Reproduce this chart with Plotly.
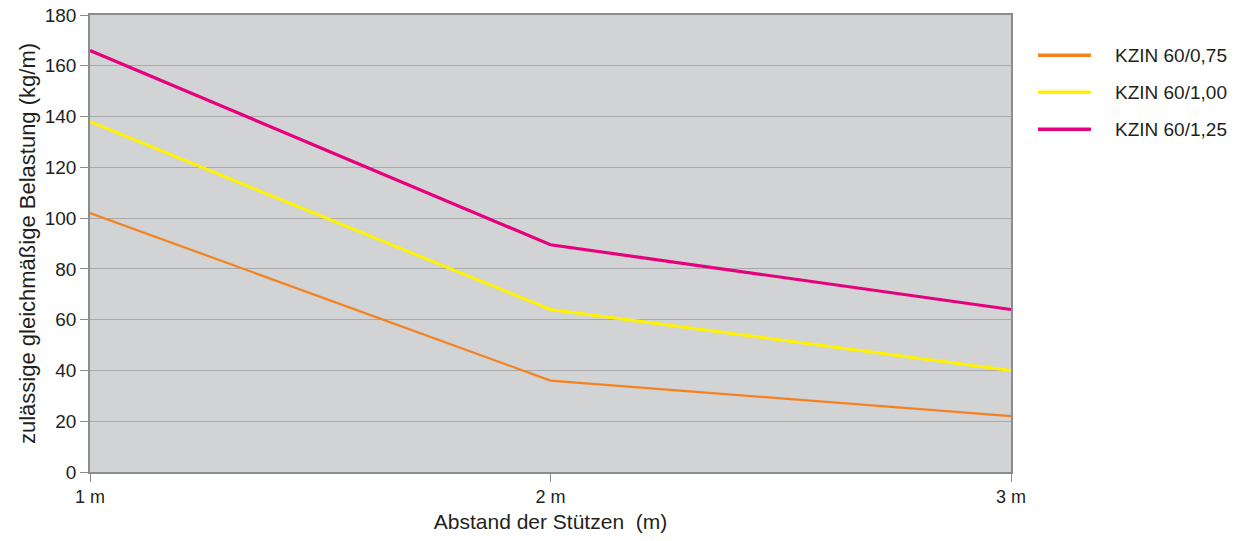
import plotly.graph_objects as go

x_labels = ["1 m", "2 m", "3 m"]
x_values = [1, 2, 3]
series_names = ["KZIN 60/0,75", "KZIN 60/1,00", "KZIN 60/1,25"]
kzin_075 = [102, 36, 22]
kzin_100 = [138, 64, 40]
kzin_125 = [166, 89.5, 64]
y_ticks = [0, 20, 40, 60, 80, 100, 120, 140, 160, 180]

colors = ["#F58220", "#FFF200", "#E6007E"]
widths = [2.2, 3, 3.2]
values = [kzin_075, kzin_100, kzin_125]

FONT = "Liberation Sans, Arial, sans-serif"
TXT = "#231F20"

fig = go.Figure()
for name, vals, c, w in zip(series_names, values, colors, widths):
    fig.add_trace(go.Scatter(x=x_values, y=vals, mode="lines", name=name,
                             line=dict(color=c, width=w), showlegend=False))

# manual legend (right side)
legend_y = [0.912, 0.831, 0.750]
for name, c, w, yy in zip(series_names, colors, widths, legend_y):
    fig.add_shape(type="line", xref="paper", yref="paper",
                  x0=1.0293, x1=1.0868, y0=yy, y1=yy,
                  line=dict(color=c, width=3.5))
    fig.add_annotation(xref="paper", yref="paper", x=1.1105, y=yy,
                       text=name, showarrow=False, xanchor="left",
                       yanchor="middle",
                       font=dict(family=FONT, size=19, color=TXT))

fig.update_layout(
    width=1235, height=541,
    margin=dict(l=90, r=224, t=15, b=69),
    paper_bgcolor="white",
    plot_bgcolor="#D1D3D4",
    font=dict(family=FONT, size=19, color=TXT),
)
fig.update_xaxes(
    range=[1, 3], tickvals=x_values, ticktext=x_labels,
    showgrid=False, zeroline=False, automargin=False,
    showline=True, linecolor="#8A8C8E", linewidth=1.5, mirror=True,
    ticks="outside", ticklen=8, tickcolor="#8A8C8E",
    tickfont=dict(family=FONT, size=18, color=TXT),
    title=dict(text="Abstand der Stützen  (m)",
               font=dict(family=FONT, size=21, color=TXT), standoff=8),
)
fig.update_yaxes(
    range=[0, 180], tickvals=y_ticks,
    showgrid=True, gridcolor="#A7A9AC", gridwidth=1, zeroline=False,
    automargin=False,
    showline=True, linecolor="#8A8C8E", linewidth=1.5, mirror=True,
    ticks="outside", ticklen=8, tickcolor="#8A8C8E",
    tickfont=dict(family=FONT, size=19, color=TXT),
    title=dict(text="zulässige gleichmäßige Belastung (kg/m)",
               font=dict(family=FONT, size=22, color=TXT), standoff=3),
)

fig.write_html("out.html", config={"displayModeBar": False},
               post_script="document.body.style.margin='0';document.body.style.overflow='hidden';")
